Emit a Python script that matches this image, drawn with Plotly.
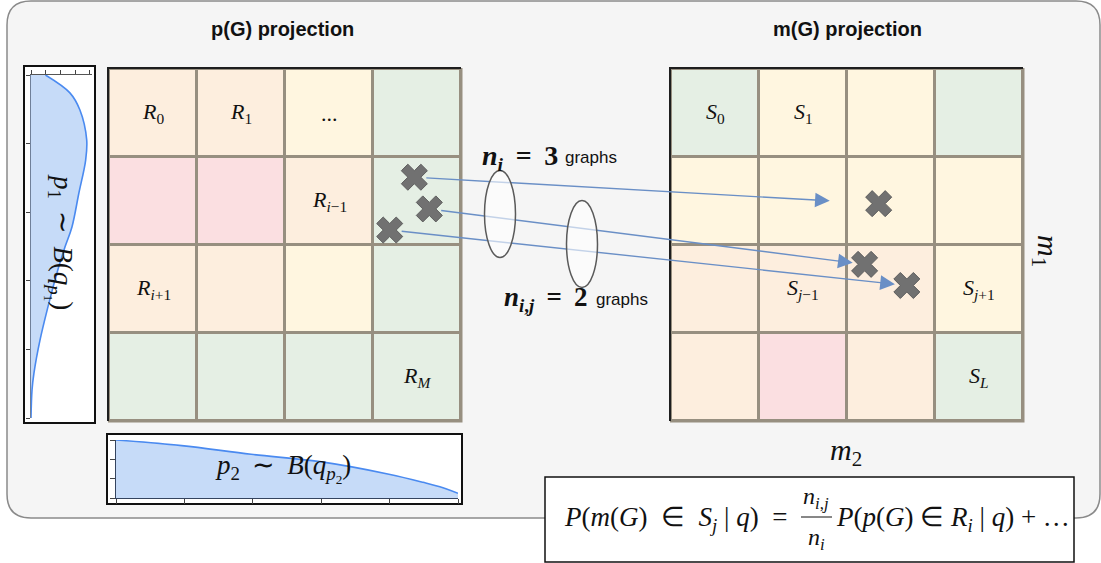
import plotly.graph_objects as go

W, H = 1101, 563
CELL = 88

# layout anchors (page pixels)
LEFT_GRID = (109, 69)
RIGHT_GRID = (671, 69)

MATH = "Liberation Serif"
SANS = "Liberation Sans"
LINE_BLUE = "#6a8fc6"
CROSS_GRAY = "#717171"
EN = "\u2002"
THIN = " \u2009"

# ---- data ----
# cell categories: 0 green, 1 yellow, 2 peach, 3 pink
CELL_COLORS = ["#e5efe4", "#fff6e0", "#fdeede", "#fbdfe1"]
LEFT_CELLS = [
    [2, 2, 1, 0],
    [3, 3, 2, 0],
    [2, 2, 1, 0],
    [0, 0, 0, 0],
]
RIGHT_CELLS = [
    [0, 1, 1, 0],
    [1, 1, 1, 1],
    [2, 2, 2, 1],
    [2, 3, 2, 0],
]
LEFT_LABELS = [
    (0, 0, "<i>R</i><sub>0</sub>"),
    (1, 0, "<i>R</i><sub>1</sub>"),
    (2, 0, "..."),
    (2, 1, "<i>R</i><sub><i>i</i>−1</sub>"),
    (0, 2, "<i>R</i><sub><i>i</i>+1</sub>"),
    (3, 3, "<i>R</i><sub><i>M</i></sub>"),
]
RIGHT_LABELS = [
    (0, 0, "<i>S</i><sub>0</sub>"),
    (1, 0, "<i>S</i><sub>1</sub>"),
    (1, 2, "<i>S</i><sub><i>j</i>−1</sub>"),
    (3, 2, "<i>S</i><sub><i>j</i>+1</sub>"),
    (3, 3, "<i>S</i><sub><i>L</i></sub>"),
]
LEFT_CROSS_X = [3.47, 3.64, 3.19]
LEFT_CROSS_Y = [1.23, 1.59, 1.83]
RIGHT_CROSS_X = [2.36, 2.20, 2.68]
RIGHT_CROSS_Y = [1.53, 2.22, 2.46]
ARROW_GAP = [49, 12, 12]

P1_VALUES = [1.0, 0.948, 0.898, 0.811, 0.752, 0.656, 0.557, 0.499, 0.423, 0.324, 0.227, 0.131, 0.082, 0.0]
P1_DENSITY = [0.98, 2.64, 3.32, 3.78, 3.71, 3.25, 2.78, 2.31, 1.76, 1.15, 0.61, 0.20, 0.07, 0.0]
P2_VALUES = [0.0, 0.192, 0.395, 0.596, 0.798, 0.898, 0.956, 1.0]
P2_DENSITY = [3.0, 2.71, 2.26, 1.88, 1.23, 0.81, 0.53, 0.24]


def X(px):
    return px / W


def Y(py):
    return 1 - py / H


def grid_px(origin, gx, gy):
    return origin[0] + gx * CELL, origin[1] + gy * CELL


def rounded_rect(x0, y0, x1, y1, r):
    return (f"M {X(x0 + r)} {Y(y0)} L {X(x1 - r)} {Y(y0)} Q {X(x1)} {Y(y0)} {X(x1)} {Y(y0 + r)} "
            f"L {X(x1)} {Y(y1 - r)} Q {X(x1)} {Y(y1)} {X(x1 - r)} {Y(y1)} "
            f"L {X(x0 + r)} {Y(y1)} Q {X(x0)} {Y(y1)} {X(x0)} {Y(y1 - r)} "
            f"L {X(x0)} {Y(y0 + r)} Q {X(x0)} {Y(y0)} {X(x0 + r)} {Y(y0)} Z")


def rect(x0, y0, x1, y1, fill, line, width):
    return dict(type="rect", xref="paper", yref="paper", x0=X(x0), x1=X(x1), y0=Y(y1), y1=Y(y0),
                fillcolor=fill, line=dict(color=line, width=width), layer="below")


n = len(CELL_COLORS)
colorscale = []
for k, c in enumerate(CELL_COLORS):
    colorscale += [[k / n, c], [(k + 1) / n, c]]

fig = go.Figure()

centers = [i + 0.5 for i in range(4)]
for cells, ax in [(LEFT_CELLS, ""), (RIGHT_CELLS, "2")]:
    fig.add_trace(go.Heatmap(
        z=cells, x=centers, y=centers, xaxis="x" + ax, yaxis="y" + ax,
        colorscale=colorscale, zmin=-0.5, zmax=n - 0.5, showscale=False,
        xgap=3, ygap=3, hoverinfo="skip",
    ))

cross_marker = dict(symbol="x", size=23, color=CROSS_GRAY, line=dict(color="#5e5e5e", width=1))
fig.add_trace(go.Scatter(x=LEFT_CROSS_X, y=LEFT_CROSS_Y, xaxis="x", yaxis="y", mode="markers",
                         marker=cross_marker, hoverinfo="skip"))
fig.add_trace(go.Scatter(x=RIGHT_CROSS_X, y=RIGHT_CROSS_Y, xaxis="x2", yaxis="y2", mode="markers",
                         marker=cross_marker, hoverinfo="skip"))

fig.add_trace(go.Scatter(x=P1_DENSITY, y=P1_VALUES, xaxis="x3", yaxis="y3", mode="lines",
                         line=dict(color="#4a8af0", width=1.6, shape="spline"),
                         fill="tozerox", fillcolor="#c6dbf8", hoverinfo="skip"))
fig.add_trace(go.Scatter(x=P2_VALUES, y=P2_DENSITY, xaxis="x4", yaxis="y4", mode="lines",
                         line=dict(color="#4a8af0", width=1.6, shape="spline"),
                         fill="tozeroy", fillcolor="#c6dbf8", hoverinfo="skip"))

grid_axis = dict(range=[0, 4], showgrid=False, zeroline=False, showticklabels=False, ticks="",
                 showline=True, linecolor="#1e1e1e", linewidth=2, fixedrange=True)
layout_axes = {}
for key, origin in [("", LEFT_GRID), ("2", RIGHT_GRID)]:
    gx0, gy0 = origin
    layout_axes["xaxis" + key] = dict(grid_axis, domain=[X(gx0), X(gx0 + 4 * CELL)], side="top",
                                      anchor="y" + key)
    layout_axes["yaxis" + key] = dict(grid_axis, domain=[Y(gy0 + 4 * CELL), Y(gy0)], range=[4, 0],
                                      anchor="x" + key)

dens_axis = dict(showgrid=False, zeroline=False, showticklabels=False, ticks="outside", ticklen=4,
                 tickcolor="#444", showline=True, linewidth=1, fixedrange=True)
layout_axes["xaxis3"] = dict(dens_axis, domain=[X(31), X(92)], range=[0, 4.14], side="top",
                             tickvals=[0, 1, 2, 3, 4], linecolor="#555", anchor="y3")
layout_axes["yaxis3"] = dict(dens_axis, domain=[Y(418), Y(75)], range=[0, 1],
                             tickvals=[0, 0.2, 0.4, 0.6, 0.8, 1.0], linecolor="#6f7f99", anchor="x3")
layout_axes["xaxis4"] = dict(dens_axis, domain=[X(116), X(458)], range=[0, 1], ticklen=5,
                             tickvals=[0, 0.2, 0.4, 0.6, 0.8, 1.0], linecolor="#34445f", anchor="y4")
layout_axes["yaxis4"] = dict(dens_axis, domain=[Y(498), Y(440)], range=[0, 3], ticklen=5,
                             tickvals=[0, 1, 2, 3], linecolor="#34445f", anchor="x4")

shapes = [
    dict(type="path", xref="paper", yref="paper", path=rounded_rect(7, 1, 1100, 518, 24),
         fillcolor="#f5f5f5", line=dict(color="#8a8a8a", width=1.5), layer="below"),
    rect(24, 66, 95, 423, "white", "#111", 2),
    rect(107, 434, 462, 504, "white", "#111", 2),
    rect(LEFT_GRID[0] - 1, LEFT_GRID[1] - 1, LEFT_GRID[0] + 4 * CELL + 1.5, LEFT_GRID[1] + 4 * CELL + 1.5,
         "#978f80", "rgba(0,0,0,0)", 0),
    rect(RIGHT_GRID[0] - 1, RIGHT_GRID[1] - 1, RIGHT_GRID[0] + 4 * CELL + 1.5, RIGHT_GRID[1] + 4 * CELL + 1.5,
         "#978f80", "rgba(0,0,0,0)", 0),
    rect(545, 477, 1074, 562, "white", "#111", 1.5),
]

annotations = []
for i in range(len(LEFT_CROSS_X)):
    sx, sy = grid_px(LEFT_GRID, LEFT_CROSS_X[i], LEFT_CROSS_Y[i])
    ex, ey = grid_px(RIGHT_GRID, RIGHT_CROSS_X[i], RIGHT_CROSS_Y[i])
    length = ((ex - sx) ** 2 + (ey - sy) ** 2) ** 0.5
    ux, uy = (ex - sx) / length, (ey - sy) / length
    tx, ty = sx + ux * 12, sy + uy * 12
    hx, hy = ex - ux * ARROW_GAP[i], ey - uy * ARROW_GAP[i]
    shapes.append(dict(type="line", xref="paper", yref="paper", x0=X(tx), y0=Y(ty),
                       x1=X(hx - ux * 10), y1=Y(hy - uy * 10), line=dict(color=LINE_BLUE, width=1.4),
                       layer="above"))
    annotations.append(dict(x=X(hx), y=Y(hy), xref="paper", yref="paper", text="", showarrow=True,
                            ax=-ux * 16, ay=-uy * 16, arrowhead=2, arrowsize=2.1, arrowwidth=1.4,
                            arrowcolor=LINE_BLUE))

for cx, cy in [(500, 214), (582, 244)]:
    shapes.append(dict(type="circle", xref="paper", yref="paper", x0=X(cx - 15.5), x1=X(cx + 15.5),
                       y0=Y(cy + 43.5), y1=Y(cy - 43.5), fillcolor="rgba(255,255,255,0.6)",
                       line=dict(color="#5a5a5a", width=1.5), layer="above"))

shapes.append(dict(type="line", xref="paper", yref="paper", x0=X(801), x1=X(832), y0=Y(517), y1=Y(517),
                   line=dict(color="#111", width=1)))

for labels, ax in [(LEFT_LABELS, ""), (RIGHT_LABELS, "2")]:
    for col, row, txt in labels:
        annotations.append(dict(x=col + 0.5, y=row + 0.5, xref="x" + ax, yref="y" + ax, text=txt,
                                showarrow=False, font=dict(family=MATH, size=22, color="#111")))


def note(px, py, txt, size, family=MATH, xanchor="center", angle=0, bold=False):
    annotations.append(dict(x=X(px), y=Y(py), xref="paper", yref="paper", text=txt, showarrow=False,
                            xanchor=xanchor, yanchor="middle", textangle=angle,
                            font=dict(family=family, size=size, color="#111",
                                      weight="bold" if bold else "normal")))


note(282, 29, "p(G) projection", 20, SANS, bold=True)
note(847, 29, "m(G) projection", 20, SANS, bold=True)
note(60, 242, f"<i>p</i><sub>1</sub>{THIN}∼{THIN}<i>B</i>(<i>q</i><sub><i>p</i><sub>1</sub></sub>)", 27, angle=90)
note(283, 468, f"<i>p</i><sub>2</sub>{THIN}∼{THIN}<i>B</i>(<i>q</i><sub><i>p</i><sub>2</sub></sub>)", 27)
note(560, 158, f"<i>n</i><sub><i>i</i></sub>{THIN}={THIN}3", 28, xanchor="right", bold=True)
note(563, 158, "graphs", 17, SANS, xanchor="left")
note(589, 299, f"<i>n</i><sub><i>i</i>,<i>j</i></sub>{THIN}={THIN}2", 27, xanchor="right", bold=True)
note(594, 299, "graphs", 17, SANS, xanchor="left")
note(1046, 251, "<i>m</i><sub>1</sub>", 30, angle=90)
note(846, 452, "<i>m</i><sub>2</sub>", 30)
note(789, 519, f"<i>P</i>(<i>m</i>(<i>G</i>){EN}∈{EN}<i>S</i><sub><i>j</i></sub> | <i>q</i>){EN}=", 27,
     xanchor="right")
note(816, 498, "<i>n</i><sub><i>i</i>,<i>j</i></sub>", 24)
note(816, 539, "<i>n</i><sub><i>i</i></sub>", 24)
note(834, 519, "<i>P</i>(<i>p</i>(<i>G</i>) ∈ <i>R</i><sub><i>i</i></sub> | <i>q</i>) + …", 27,
     xanchor="left")

fig.update_layout(
    width=W, height=H,
    margin=dict(l=0, r=0, t=0, b=0),
    paper_bgcolor="white",
    plot_bgcolor="rgba(0,0,0,0)",
    showlegend=False,
    shapes=shapes,
    annotations=annotations,
    **layout_axes,
)

fig.write_html("out.html", config={"displayModeBar": False},
               post_script="document.body.style.margin = '0';")
